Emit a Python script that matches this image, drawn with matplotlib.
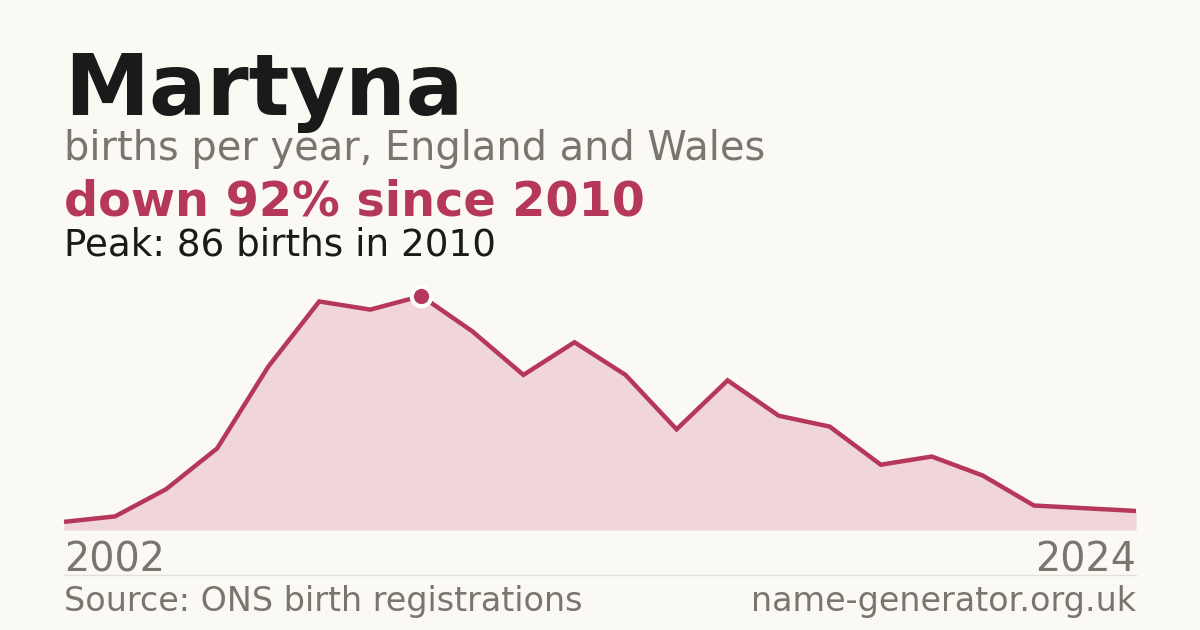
import matplotlib
matplotlib.use("Agg")
import matplotlib.pyplot as plt

NAME = "Martyna"
YEARS = [2002, 2004, 2005, 2006, 2007, 2008, 2009, 2010, 2011, 2012, 2013,
         2014, 2015, 2016, 2017, 2018, 2019, 2020, 2021, 2022, 2023, 2024]
BIRTHS = [3, 5, 15, 30, 60, 84, 81, 86, 73, 57, 69,
          57, 37, 55, 42, 38, 24, 27, 20, 9, 8, 7]

BG = "#FAF9F4"
ACCENT = "#B5385A"
FILL = "#F0D5DA"
GREY = "#7A756E"
DARK = "#1A1A1A"

W, H = 1200, 630
fig = plt.figure(figsize=(W / 100, H / 100), dpi=100, facecolor=BG)

peak_i = BIRTHS.index(max(BIRTHS))
peak_year = YEARS[peak_i]
drop = round(100 * (1 - BIRTHS[-1] / BIRTHS[peak_i]))

# chart area: x 64..1136, baseline y=530, peak y=296
ax = fig.add_axes([64 / W, (H - 530) / H, 1072 / W, 234 / H])
ax.set_facecolor("none")
xs = list(range(len(BIRTHS)))
ax.fill_between(xs, BIRTHS, 0, color=FILL, lw=0)
ax.plot(xs, BIRTHS, color=ACCENT, lw=3.2, solid_joinstyle="miter", solid_capstyle="butt", clip_on=False)
ax.plot(peak_i, BIRTHS[peak_i], "o", ms=14, mfc=ACCENT, mec="white", mew=3, clip_on=False, zorder=5)
ax.set_xlim(0, len(BIRTHS) - 1)
ax.set_ylim(0, max(BIRTHS))
ax.axis("off")

fx = 64 / W
def fy(px):
    return 1 - px / H

fig.text(fx, fy(115), NAME, fontsize=61.5, fontweight="bold", color=DARK, va="baseline")
fig.text(fx, fy(160), "births per year, England and Wales", fontsize=28.7, color=GREY, va="baseline")
fig.text(fx, fy(215), f"down {drop}% since {peak_year}", fontsize=34.4, fontweight="bold", color=ACCENT, va="baseline")
fig.text(fx, fy(255), f"Peak: {BIRTHS[peak_i]} births in {peak_year}", fontsize=26.8, color=DARK, va="baseline")

fig.text(fx, fy(571), str(YEARS[0]), fontsize=28.5, color=GREY, va="baseline")
fig.text(1136 / W, fy(571), str(YEARS[-1]), fontsize=28.5, color=GREY, va="baseline", ha="right")
fig.add_artist(plt.Line2D([64 / W, 1136 / W], [fy(574.5)] * 2, color="#E2E0DA", lw=1))
fig.text(fx, fy(611), "Source: ONS birth registrations", fontsize=24, color=GREY, va="baseline")
fig.text(1136 / W, fy(611), "name-generator.org.uk", fontsize=24, color=GREY, va="baseline", ha="right")

fig.savefig("out.png", dpi=100, facecolor=BG)
